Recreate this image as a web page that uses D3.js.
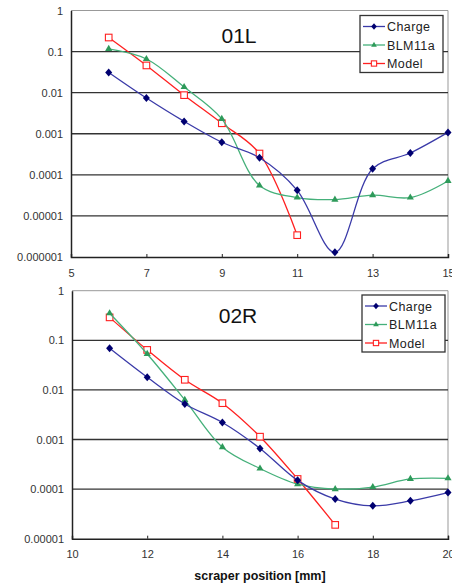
<!DOCTYPE html>
<html>
<head>
<meta charset="utf-8">
<script src="https://cdn.jsdelivr.net/npm/d3@7"></script>
<style>
  body { margin: 0; background: #fff; }
  svg { display: block; font-family: "Liberation Sans", Arial, sans-serif; }
</style>
</head>
<body>
<div id="chart"></div>
<script>
// panel 01L
const xTop = [6, 7, 8, 9, 10, 11, 12, 13, 14, 15];
const chargeTop = [0.031, 0.0074, 0.002, 0.00062, 0.00026, 0.000042, 0.0000013, 0.00014, 0.00034, 0.00108];
const blmTop = [0.116, 0.066, 0.0137, 0.0023, 0.000055, 0.000028, 0.000025, 0.000032, 0.000028, 0.000071];
const modelTopX = [6, 7, 8, 9, 10, 11];
const modelTop = [0.22, 0.046, 0.0087, 0.0018, 0.00033, 0.0000034];
const xTicksTop = [5, 7, 9, 11, 13, 15];
const yTicksTop = ["1", "0.1", "0.01", "0.001", "0.0001", "0.00001", "0.000001"];

// panel 02R
const xBot = [11, 12, 13, 14, 15, 16, 17, 18, 19, 20];
const chargeBot = [0.069, 0.018, 0.0052, 0.0022, 0.00066, 0.00015, 0.000063, 0.000046, 0.000058, 0.000085];
const blmBot = [0.35, 0.053, 0.0063, 0.0007, 0.00026, 0.000126, 0.0001, 0.00011, 0.00016, 0.000165];
const modelBotX = [11, 12, 13, 14, 15, 16, 17];
const modelBot = [0.29, 0.064, 0.016, 0.0054, 0.00114, 0.00016, 0.000019];
const xTicksBot = [10, 12, 14, 16, 18, 20];
const yTicksBot = ["1", "0.1", "0.01", "0.001", "0.0001", "0.00001"];

const seriesNames = ["Charge", "BLM11a", "Model"];

const W = 452, H = 583;
const svg = d3.select("#chart").append("svg")
  .attr("width", W).attr("height", H);

const styles = {
  Charge: { line: "#3a3aa8", fill: "#000070", marker: "diamond" },
  BLM11a: { line: "#45b07a", fill: "#2e9a5a", marker: "triangle" },
  Model: { line: "#ff2020", fill: "#fff", stroke: "#ff2020", marker: "square" }
};

function drawMarker(g, name, cx, cy, small) {
  const s = styles[name];
  const k = small ? 0.8 : 1;
  if (s.marker === "diamond") {
    g.append("path").attr("d", `M0,${-4 * k}L${3.5 * k},0L0,${4 * k}L${-3.5 * k},0Z`)
      .attr("transform", `translate(${cx},${cy})`).attr("fill", s.fill);
  } else if (s.marker === "triangle") {
    g.append("path").attr("d", d3.symbol(d3.symbolTriangle, 22 * k * k)())
      .attr("transform", `translate(${cx},${cy})`).attr("fill", s.fill);
  } else {
    const h = 3.3 * k;
    g.append("rect").attr("x", cx - h).attr("y", cy - h)
      .attr("width", 2 * h).attr("height", 2 * h)
      .attr("fill", "#fff").attr("stroke", s.stroke).attr("stroke-width", 1.1);
  }
}

function panel(p) {
  const g = svg.append("g");
  const x = d3.scaleLinear().domain(p.xDomain).range([p.left, p.right]);
  const y = d3.scaleLog().domain(p.yDomain).range([p.bottom, p.top]);

  // gray frame top/right
  g.append("path")
    .attr("d", `M${p.left},${p.top}H${p.right}V${p.bottom}`)
    .attr("fill", "none").attr("stroke", "#999").attr("stroke-width", 1);

  // gridlines
  const decades = p.yTicks.map(t => +t);
  g.selectAll(".grid").data(decades.filter(d => d < 1 && d > p.yDomain[0]))
    .enter().append("line")
    .attr("x1", p.left).attr("x2", p.right)
    .attr("y1", d => y(d)).attr("y2", d => y(d))
    .attr("stroke", "#333").attr("stroke-width", 1.3);

  // y axis
  g.append("g")
    .attr("transform", `translate(${p.left},0)`)
    .call(d3.axisLeft(y).tickValues(decades).tickSize(0).tickPadding(8)
      .tickFormat((d, i) => p.yTicks[i]))
    .call(a => a.select(".domain").attr("stroke", "#222").attr("stroke-width", 1.5))
    .call(a => a.selectAll("text").attr("font-size", 11).attr("fill", "#333")
      .attr("font-family", "Liberation Sans, Arial, sans-serif"));

  // x axis
  g.append("g")
    .attr("transform", `translate(0,${p.bottom})`)
    .call(d3.axisBottom(x).tickValues(p.xTicks).tickSize(-3).tickPadding(12)
      .tickFormat(d3.format("d")))
    .call(a => a.select(".domain").attr("stroke", "#222").attr("stroke-width", 1.5))
    .call(a => a.selectAll(".tick line").attr("stroke", "#222"))
    .call(a => a.selectAll("text").attr("font-size", 11).attr("fill", "#333")
      .attr("font-family", "Liberation Sans, Arial, sans-serif"));

  // title
  g.append("text").attr("x", p.titleX).attr("y", p.titleY)
    .attr("text-anchor", "middle").attr("font-size", 21).attr("fill", "#111")
    .text(p.title);

  const line = d3.line()
    .x(d => x(d[0])).y(d => y(d[1]))
    .curve(d3.curveCatmullRom.alpha(0.5));

  const series = [
    { name: "Charge", xs: p.xs, vs: p.charge },
    { name: "BLM11a", xs: p.xs, vs: p.blm },
    { name: "Model", xs: p.modelX, vs: p.model }
  ];
  // draw in reverse so Charge sits on top
  series.slice().reverse().forEach(s => {
    const pts = s.xs.map((xv, i) => [xv, s.vs[i]]);
    g.append("path").datum(pts).attr("d", line)
      .attr("fill", "none").attr("stroke", styles[s.name].line).attr("stroke-width", 1.3);
    pts.forEach(pt => drawMarker(g, s.name, x(pt[0]), y(pt[1])));
  });

  // legend
  const lg = g.append("g");
  lg.append("rect").attr("x", p.legX).attr("y", p.legY)
    .attr("width", 83).attr("height", 57)
    .attr("fill", "#fff").attr("stroke", "#333").attr("stroke-width", 1.3);
  seriesNames.forEach((n, i) => {
    const cy = p.legY + 11 + i * 18.5;
    lg.append("line").attr("x1", p.legX + 3).attr("x2", p.legX + 25)
      .attr("y1", cy).attr("y2", cy)
      .attr("stroke", styles[n].line).attr("stroke-width", 1.3);
    drawMarker(lg, n, p.legX + 14, cy, true);
    lg.append("text").attr("x", p.legX + 27).attr("y", cy + 4.5)
      .attr("font-size", 12.5).attr("fill", "#222").attr("letter-spacing", 0.4)
      .text(n);
  });
}

panel({
  xDomain: [5, 15], yDomain: [1e-6, 1],
  left: 71, right: 448, top: 10.5, bottom: 257,
  xTicks: xTicksTop, yTicks: yTicksTop,
  xs: xTop, charge: chargeTop, blm: blmTop, modelX: modelTopX, model: modelTop,
  title: "01L", titleX: 239, titleY: 43,
  legX: 360, legY: 15.5
});

panel({
  xDomain: [10, 20], yDomain: [1e-5, 1],
  left: 72, right: 448, top: 290.7, bottom: 538.7,
  xTicks: xTicksBot, yTicks: yTicksBot,
  xs: xBot, charge: chargeBot, blm: blmBot, modelX: modelBotX, model: modelBot,
  title: "02R", titleX: 238, titleY: 323,
  legX: 362, legY: 295
});

svg.append("text").attr("x", 260).attr("y", 580)
  .attr("text-anchor", "middle").attr("font-size", 12.5).attr("font-weight", "bold")
  .attr("fill", "#111").text("scraper position [mm]");
</script>
</body>
</html>
